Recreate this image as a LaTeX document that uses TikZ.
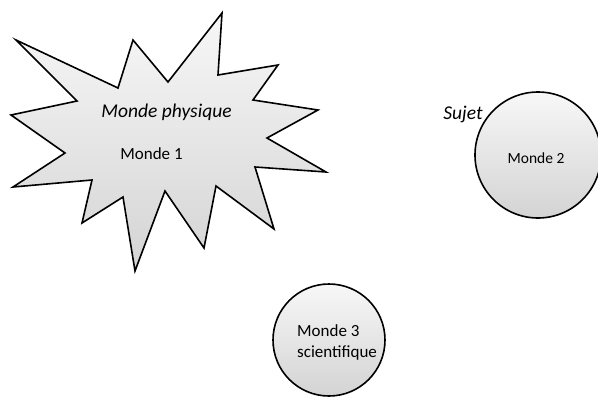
\documentclass[tikz,border=0pt]{standalone}
\usepackage{fontspec}
\setmainfont{Carlito}
\begin{document}
\begin{tikzpicture}[x=1pt,y=-1pt,
  shape fill/.style={draw=black,line width=1.6pt,line join=miter,top color=gray!6,bottom color=gray!34},
  lbl/.style={font=\fontsize{17}{20}\selectfont,inner sep=0pt},
  ital/.style={font=\fontsize{19.5}{22}\selectfont\itshape,inner sep=0pt}]
\useasboundingbox (0,0) rectangle (598,397);
\path[shape fill] (16,40) -- (118,88) -- (133,40) -- (168,82) -- (222,13) -- (218,75)
  -- (278,65) -- (253,100) -- (318,110) -- (267,138) -- (326,172) -- (255,167)
  -- (274,229) -- (216,186) -- (204,248) -- (165,191) -- (135,271) -- (123,197)
  -- (82,223) -- (92,180) -- (13,187) -- (65,153) -- (11,115) -- (77,101) -- cycle;
\path[shape fill] (538,155) circle[radius=63];
\path[shape fill] (329,340) circle[radius=56];
\node[ital] (phys) at (166.5,112) {Monde physique};
\node[lbl] (m1) at (151.5,154) {Monde 1};
\node[ital] (sujet) at (463,114) {Sujet};
\node[lbl,font=\fontsize{15.5}{18}\selectfont] (m2) at (536,158) {Monde 2};
\node[lbl,align=left,anchor=west,font=\fontsize{17}{21}\selectfont] (m3) at (297,342) {Monde 3\\scientifique};
\end{tikzpicture}
\end{document}
